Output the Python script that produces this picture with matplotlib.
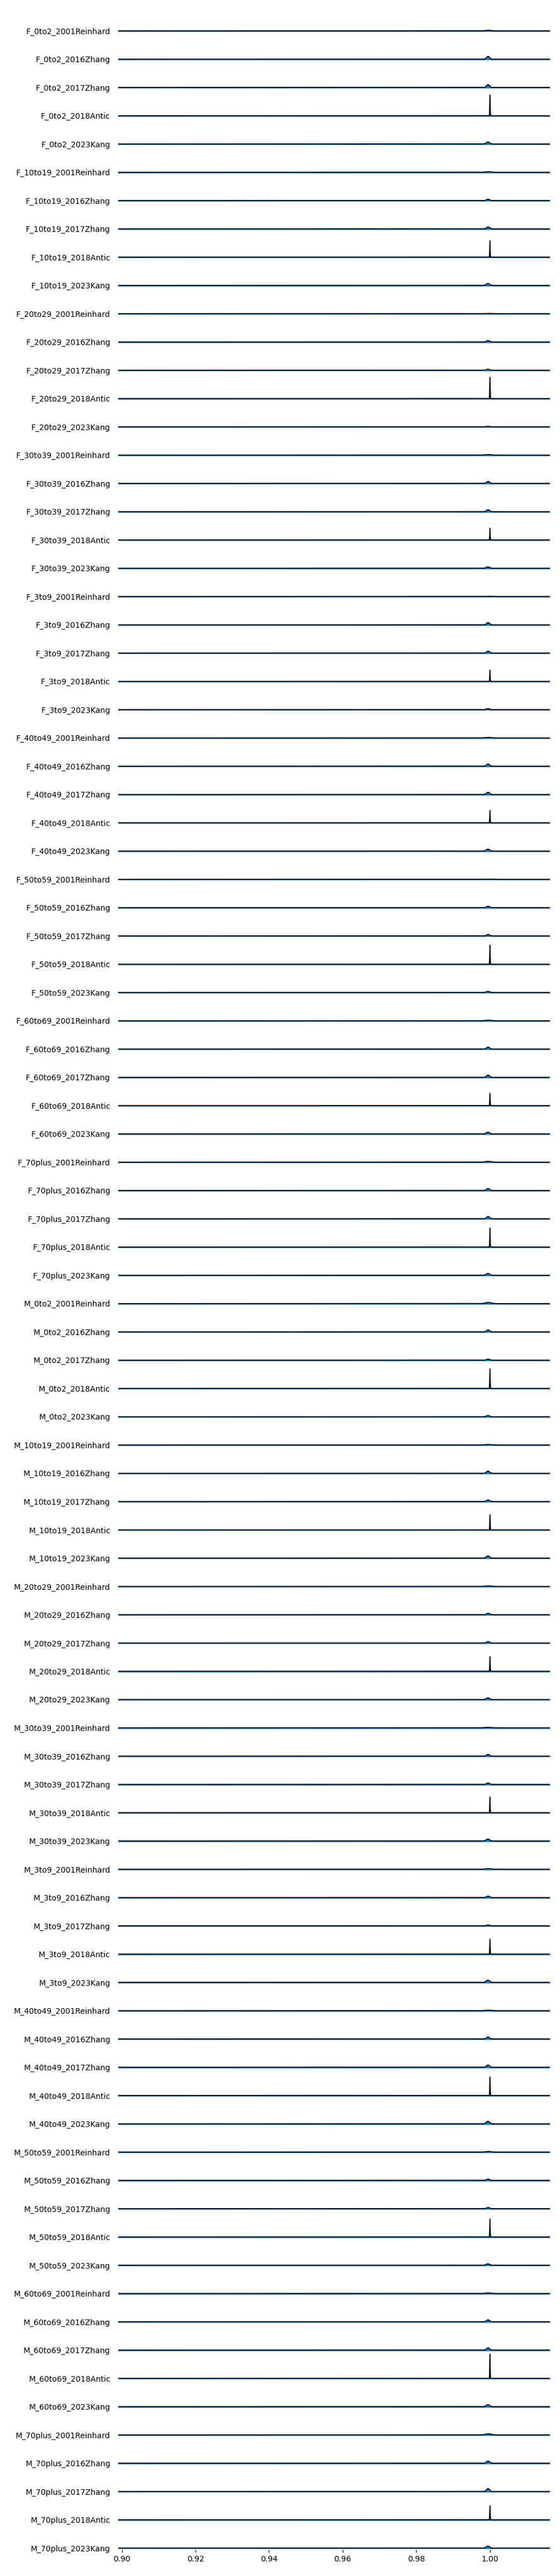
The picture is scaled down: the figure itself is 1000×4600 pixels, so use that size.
import numpy as np
import matplotlib
matplotlib.use('Agg')
import matplotlib.pyplot as plt

plt.rcParams['font.family'] = ['DejaVu Sans']
plt.rcParams['font.size'] = 10

# categories
sexes = ['F', 'M']
ages = ['0to2', '10to19', '20to29', '30to39', '3to9', '40to49', '50to59', '60to69', '70plus']
sources = ['2001Reinhard', '2016Zhang', '2017Zhang', '2018Antic', '2023Kang']

# peak density, per source, F ages then M ages
peak_reinhard = [200, 200, 100, 200, 100, 200, 60, 200, 300,
                 400, 200, 200, 200, 200, 200, 200, 200, 400]
peak_zhang2016 = [1000, 500, 500, 700, 800, 800, 500, 700, 700,
                  700, 800, 500, 600, 500, 700, 500, 700, 800]
peak_zhang2017 = [1000, 700, 400, 700, 700, 800, 500, 800, 800,
                  400, 600, 500, 500, 300, 800, 400, 800, 1000]
peak_antic = [7400, 5800, 7600, 4200, 4000, 4400, 6800, 4400, 6800,
              7000, 5400, 5200, 5600, 5300, 6600, 6400, 8600, 5000]
peak_kang = [700, 700, 200, 500, 400, 700, 400, 600, 700,
             400, 800, 600, 700, 800, 900, 500, 700, 700]

# peak location and spread per source
centers = [0.99955, 0.9995, 0.9995, 1.0000, 0.99945]
spreads = [0.0008, 0.0004, 0.0004, 0.00006, 0.00045]

x_lo, x_hi = 0.899, 1.0163
dens_per_row = 10100.0

peaks = [peak_reinhard, peak_zhang2016, peak_zhang2017, peak_antic, peak_kang]

labels = []
rows = []  # (peak, center, spread)
for si, s in enumerate(sexes):
    for ai, a in enumerate(ages):
        for k, src in enumerate(sources):
            labels.append(f'{s}_{a}_{src}')
            rows.append((peaks[k][si * len(ages) + ai], centers[k], spreads[k]))

n = len(labels)
fig = plt.figure(figsize=(10, 46), dpi=100)
ax = fig.add_axes([0.211, 0.0102, 0.771, 0.9854])

x = np.linspace(x_lo, x_hi, 20001)
for i, (pk, c, sd) in enumerate(rows):
    base = n - 1 - i
    y = pk / dens_per_row * np.exp(-0.5 * ((x - c) / sd) ** 2)
    ax.fill_between(x, base - 0.02, base + y, color='#1f77b4', lw=0, zorder=2)
    ax.plot([x_lo, x_hi], [base - 0.022, base - 0.022], color='#8dbbe0', lw=1.0, zorder=1)
    ax.plot(x, base + y, color='black', lw=1.3, zorder=3)

ax.set_xlim(x_lo, x_hi)
ax.set_ylim(-0.06, n - 1 + 0.69)
ax.set_yticks(np.arange(n)[::-1])
ax.set_yticklabels(labels)
ax.tick_params(axis='y', length=0, pad=10)
ax.set_xticks(np.arange(0.90, 1.001, 0.02))
ax.set_xticklabels([f'{v:.2f}' for v in np.arange(0.90, 1.001, 0.02)])
for sp in ax.spines.values():
    sp.set_visible(False)

fig.savefig('out.png', dpi=100)
